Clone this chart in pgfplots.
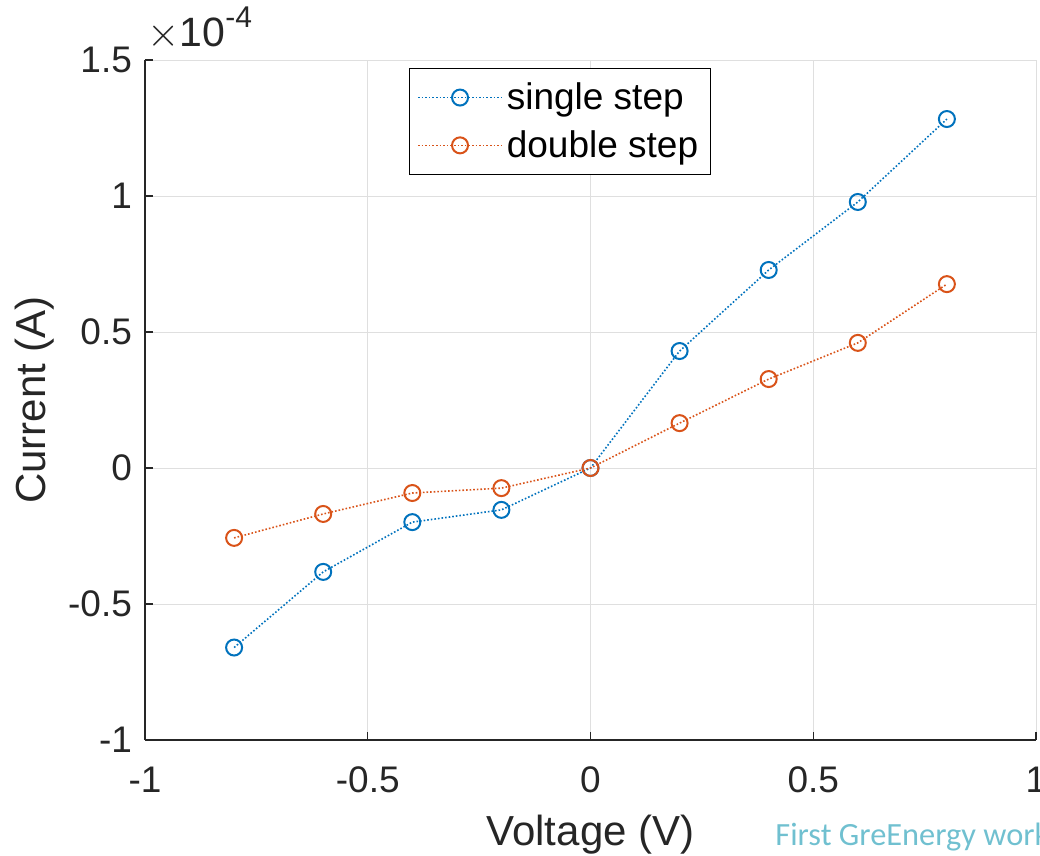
\documentclass[border=0pt]{standalone}
\usepackage{pgfplots}
\pgfplotsset{compat=1.18}
\usepackage{fontspec}
\setmainfont{Liberation Sans}
\newfontfamily\calib{Carlito}
\definecolor{mblue}{RGB}{0,114,189}
\definecolor{morange}{RGB}{217,83,25}
\definecolor{axgray}{RGB}{38,38,38}
\definecolor{wm}{RGB}{112,192,208}
\begin{document}
\begin{tikzpicture}
\begin{axis}[
  at={(72.5pt,58pt)}, anchor=south west,
  scale only axis, width=445.5pt, height=340pt,
  xmin=-1, xmax=1, ymin=-1, ymax=1.5,
  xtick={-1,-0.5,0,0.5,1}, ytick={-1,-0.5,0,0.5,1,1.5},
  xticklabels={-1,-0.5,0,0.5,1}, yticklabels={-1,-0.5,0,0.5,1,1.5},
  axis x line*=bottom, axis y line*=left,
  axis line style={axgray, line width=0.6pt, -},
  grid=major, major grid style={gray!25, line width=0.4pt},
  tick style={axgray, line width=0.6pt}, tick align=inside,
  major tick length=4pt,
  ticklabel style={font=\fontsize{18.5}{21}\selectfont, text=axgray},
  xticklabel style={yshift=-10pt},
  yticklabel style={xshift=-3pt},
  xlabel={Voltage (V)}, ylabel={Current (A)},
  label style={font=\fontsize{21}{24}\selectfont, text=axgray},
  xlabel style={yshift=-4pt},
  ylabel style={yshift=0pt},
  legend style={at={(0.296,0.988)}, anchor=north west, draw=black, line width=0.5pt,
     font=\fontsize{18.5}{21}\selectfont, inner xsep=4pt, inner ysep=5pt, row sep=5pt},
  legend cell align=left,
  legend image code/.code={\draw[#1] (0pt,0pt) -- (42pt,0pt); \draw[#1, only marks] plot coordinates {(21pt,0pt)};},
  clip=false,
]
\addplot[mblue, densely dotted, line width=0.8pt, mark=o, mark size=4pt, mark options={solid, line width=1pt}]
  coordinates {(-0.8,-0.66) (-0.6,-0.382) (-0.4,-0.199) (-0.2,-0.154) (0,0) (0.2,0.43) (0.4,0.728) (0.6,0.978) (0.8,1.283)};
\addlegendentry{single step}
\addplot[morange, densely dotted, line width=0.8pt, mark=o, mark size=4pt, mark options={solid, line width=1pt}]
  coordinates {(-0.8,-0.257) (-0.6,-0.169) (-0.4,-0.092) (-0.2,-0.074) (0,0) (0.2,0.165) (0.4,0.327) (0.6,0.46) (0.8,0.676)};
\addlegendentry{double step}
\node[anchor=south west, inner sep=0pt, text=axgray, font=\fontsize{20.5}{23}\selectfont] at (rel axis cs:0,1) [xshift=1pt, yshift=5pt] {$\times$10\raisebox{0.45em}{\fontsize{15}{17}\selectfont -4}};
\end{axis}
\node[anchor=base west, inner sep=0pt, text=wm, font=\calib\fontsize{16.2}{18}\selectfont] at (387.5pt,5pt) {First GreEnergy workshop};
\pgfresetboundingbox
\path[use as bounding box] (0,0) rectangle (520pt,428pt);
\end{tikzpicture}
\end{document}
